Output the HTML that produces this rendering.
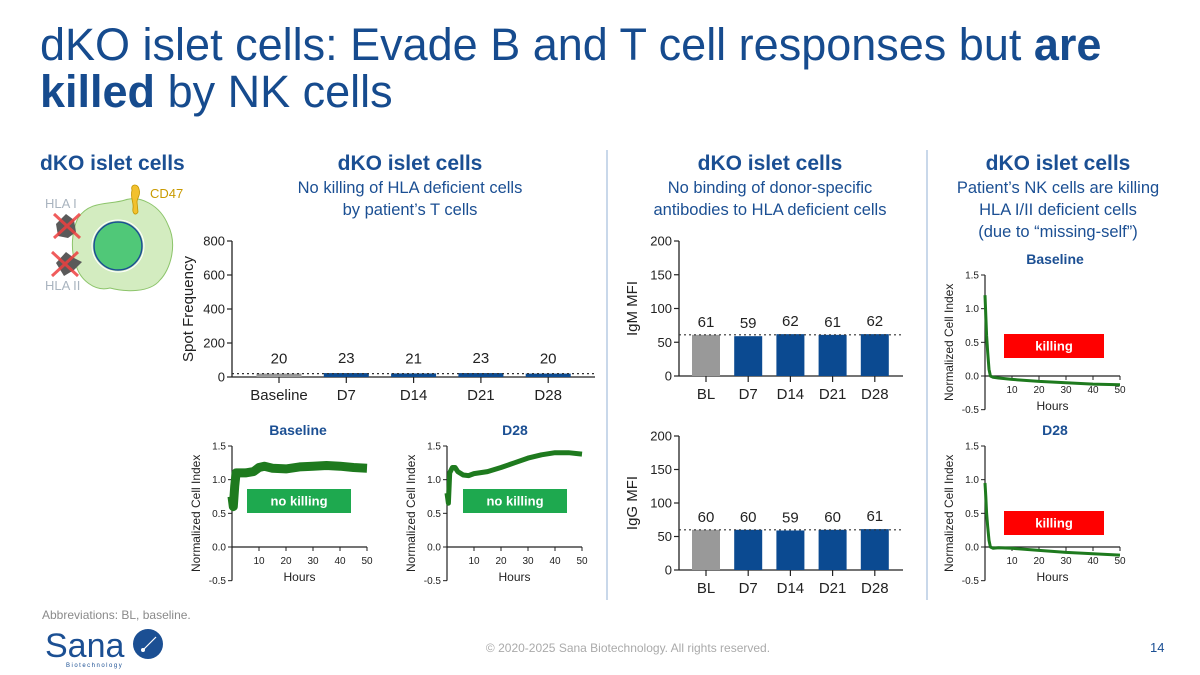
<!DOCTYPE html>
<html><head><meta charset="utf-8">
<style>
body{margin:0;background:#fff;}
svg{display:block;font-family:"Liberation Sans",Arial,sans-serif;}
</style></head>
<body>
<svg id="s" width="1200" height="675" viewBox="0 0 1200 675" xmlns="http://www.w3.org/2000/svg">
<g fill="#164b8e" font-size="45">
<text x="40" y="60">dKO islet cells: Evade B and T cell responses but <tspan font-weight="bold">are</tspan></text>
<text x="40" y="107"><tspan font-weight="bold">killed</tspan> by NK cells</text>
</g>
<text x="40" y="170" font-size="21" font-weight="bold" fill="#1b4f93">dKO islet cells</text>
<g>
<path d="M78,218 C90,200 110,205 125,200 C140,195 160,205 168,225 C178,245 170,270 160,280 C150,293 125,292 110,288 C95,292 80,280 76,265 C70,250 72,230 78,218Z" fill="#d3ecc0" stroke="#8cc46a" stroke-width="1"/>
<circle cx="118" cy="246" r="24" fill="#50c878" stroke="#1b4f93" stroke-width="1.5"/>
<circle cx="118" cy="246" r="26" fill="none" stroke="#fff" stroke-width="1"/>
<path d="M132,190 C130,184 138,183 139,189 C141,195 137,198 137,202 L138,212 C136,216 132,214 133,208 C134,203 130,198 132,190Z" fill="#f2c12e" stroke="#c29400" stroke-width="0.8"/>
<path d="M56,224 L66,214 L74,220 L76,232 L68,238 L58,236Z" fill="#5a5a5a"/>
<path d="M56,263 L66,252 L74,258 L82,262 L74,270 L64,276Z" fill="#5a5a5a"/>
<path d="M54,214 L80,238 M80,214 L54,238 M52,252 L78,276 M78,252 L52,276" stroke="#ee4040" stroke-width="3" opacity="0.85"/>
<text x="45" y="208" font-size="13" fill="#a9b4bf">HLA I</text>
<text x="45" y="290" font-size="13" fill="#a9b4bf">HLA II</text>
<text x="150" y="198" font-size="13" fill="#c99a00">CD47</text>
</g>
<g fill="#1b4f93" text-anchor="middle">
<text x="410" y="170" font-size="21" font-weight="bold">dKO islet cells</text>
<text x="410" y="193" font-size="16.5">No killing of HLA deficient cells</text>
<text x="410" y="215" font-size="16.5">by patient’s T cells</text>
<text x="770" y="170" font-size="21" font-weight="bold">dKO islet cells</text>
<text x="770" y="193" font-size="16.5">No binding of donor-specific</text>
<text x="770" y="215" font-size="16.5">antibodies to HLA deficient cells</text>
<text x="1058" y="170" font-size="21" font-weight="bold">dKO islet cells</text>
<text x="1058" y="193" font-size="16.5">Patient’s NK cells are killing</text>
<text x="1058" y="215" font-size="16.5">HLA I/II deficient cells</text>
<text x="1058" y="237" font-size="16.5">(due to “missing-self”)</text>
</g>
<line x1="607" y1="150" x2="607" y2="600" stroke="#c9d8ea" stroke-width="2"/>
<line x1="927" y1="150" x2="927" y2="600" stroke="#c9d8ea" stroke-width="2"/>
<g id="charts"></g>
<text x="42" y="619" font-size="12" fill="#8a8a8a">Abbreviations: BL, baseline.</text>
<g>
<text x="45" y="657" font-size="34" fill="#1b4f93">Sana</text>
<text x="66" y="667" font-size="6" fill="#1b4f93" letter-spacing="1.5">Biotechnology</text>
<circle cx="148" cy="644" r="15" fill="#1b4f93"/>
<line x1="143" y1="650" x2="156" y2="637" stroke="#fff" stroke-width="1.2"/>
<circle cx="143" cy="650" r="2" fill="#fff"/>
</g>
<text x="628" y="652" font-size="12" fill="#aaaaaa" text-anchor="middle">© 2020-2025 Sana Biotechnology. All rights reserved.</text>
<text x="1150" y="652" font-size="13" fill="#1b4f93">14</text>
</svg>
<script>
const NS="http://www.w3.org/2000/svg";
// Spot frequency chart data
const spotCats=["Baseline","D7","D14","D21","D28"];
const spotVals=[20,23,21,23,20];
const spotTicks=[0,200,400,600,800];
// IgM / IgG
const abCats=["BL","D7","D14","D21","D28"];
const igmVals=[61,59,62,61,62];
const iggVals=[60,60,59,60,61];
const abTicks=[0,50,100,150,200];
// Cell index curves (hours, value)
const ciTicksY=[-0.5,0,0.5,1.0,1.5];
const ciTicksX=[10,20,30,40,50];
const tBaseHours=[0,0.5,1,1.5,2,5,8,10,12,15,20,25,30,35,40,45,50];
const tBaseVals=[0.75,0.6,0.9,1.1,1.1,1.1,1.12,1.18,1.2,1.17,1.16,1.19,1.2,1.21,1.2,1.18,1.17];
const tD28Hours=[0,0.5,1,2,3,4,6,8,10,15,20,25,30,35,40,45,50];
const tD28Vals=[0.8,0.65,1.1,1.18,1.18,1.12,1.07,1.06,1.09,1.12,1.18,1.25,1.32,1.37,1.4,1.4,1.38];
const nkBaseHours=[0,0.3,0.6,1,1.5,2,3,5,10,20,30,40,50];
const nkBaseVals=[1.2,0.9,0.6,0.35,0.1,0.0,-0.02,-0.03,-0.05,-0.08,-0.1,-0.12,-0.13];
const nkD28Hours=[0,0.3,0.6,1,1.5,2,3,5,10,20,30,40,50];
const nkD28Vals=[0.95,0.75,0.5,0.3,0.1,0.0,-0.02,-0.01,-0.02,-0.05,-0.08,-0.1,-0.12];

const root=document.getElementById('charts');
function el(tag,attrs,parent,txt){const e=document.createElementNS(NS,tag);for(const k in attrs)e.setAttribute(k,attrs[k]);if(txt!==undefined)e.textContent=txt;(parent||root).appendChild(e);return e;}
function lin(d0,d1,r0,r1){return v=>r0+(v-d0)*(r1-r0)/(d1-d0);}

function barChart(name,opt){
  const g=el('g',{});
  
  
  const y=lin(opt.ymin,opt.ymax,opt.y0,opt.y1);
  const x=i=>opt.xStart+i*opt.step;
  el('line',{x1:opt.ax,y1:opt.y1,x2:opt.ax,y2:opt.y0,stroke:'#222','stroke-width':1.3},g);
  el('line',{x1:opt.ax,y1:opt.y0,x2:opt.xEnd,y2:opt.y0,stroke:'#222','stroke-width':1.3},g);
  opt.ticks.forEach(t=>{
    el('line',{x1:opt.ax-5,y1:y(t),x2:opt.ax,y2:y(t),stroke:'#222','stroke-width':1.2},g);
    const tl=el('text',{x:opt.ax-7,y:y(t)+4.5,'font-size':13,'text-anchor':'end',fill:'#222'},g,String(t));
    
    
  });
  opt.vals.forEach((v,i)=>{
    const r=el('rect',{x:x(i)-opt.bw/2,y:y(v),width:opt.bw,height:opt.y0-y(v),fill:i===0?'#999999':'#0b4a91'},g);
    
    
    el('line',{x1:x(i),y1:opt.y0,x2:x(i),y2:opt.y0+6,stroke:'#222','stroke-width':1.2},g);
    const c=el('text',{x:x(i),y:opt.y0+23,'font-size':15,'text-anchor':'middle',fill:'#222'},g,opt.cats[i]);
    
    
    const vl=el('text',{x:x(i),y:y(v)-(opt.labOff||6),'font-size':15,'text-anchor':'middle',fill:'#222'},g,String(v));
    
    
  });
  const ref=el('line',{x1:opt.ax,y1:y(opt.vals[0]),x2:opt.xEnd,y2:y(opt.vals[0]),stroke:'#333','stroke-width':1.2,'stroke-dasharray':'2,3'},g);
  
  
  const tt=el('text',{x:0,y:0,'font-size':15,'text-anchor':'middle',fill:'#222',transform:`translate(${opt.titleX},${(opt.y0+opt.y1)/2}) rotate(-90)`},g,opt.title);
  
  
}

barChart('spot-frequency-chart',{cats:spotCats,vals:spotVals,ticks:spotTicks,ymin:0,ymax:800,y0:377,y1:241,ax:232,xEnd:595,xStart:279,step:67.3,bw:45,title:'Spot Frequency',titleX:193,labOff:10});
barChart('igm-mfi-chart',{cats:abCats,vals:igmVals,ticks:abTicks,ymin:0,ymax:200,y0:376,y1:241,ax:679,xEnd:903,xStart:706,step:42.2,bw:28,title:'IgM MFI',titleX:637,labOff:8});
barChart('igg-mfi-chart',{cats:abCats,vals:iggVals,ticks:abTicks,ymin:0,ymax:200,y0:570,y1:436,ax:679,xEnd:903,xStart:706,step:42.2,bw:28,title:'IgG MFI',titleX:637,labOff:8});

function ciChart(name,opt){
  const g=el('g',{});
  
  
  const y=lin(0,1.5,opt.yZero,opt.yTop);
  const x=lin(0,50,opt.ax,opt.ax+135);
  el('line',{x1:opt.ax,y1:opt.yTop,x2:opt.ax,y2:y(-0.5),stroke:'#222','stroke-width':1.2},g);
  el('line',{x1:opt.ax,y1:opt.yZero,x2:x(50),y2:opt.yZero,stroke:'#222','stroke-width':1.2},g);
  ciTicksY.forEach(t=>{
    el('line',{x1:opt.ax-4,y1:y(t),x2:opt.ax,y2:y(t),stroke:'#222','stroke-width':1},g);
    el('text',{x:opt.ax-6,y:y(t)+3.5,'font-size':10,'text-anchor':'end',fill:'#222'},g,t.toFixed(1));
  });
  ciTicksX.forEach(t=>{
    el('line',{x1:x(t),y1:opt.yZero,x2:x(t),y2:opt.yZero+4,stroke:'#222','stroke-width':1},g);
    el('text',{x:x(t),y:opt.yZero+17,'font-size':10,'text-anchor':'middle',fill:'#222'},g,String(t));
  });
  el('text',{x:x(25),y:opt.yZero+34,'font-size':12,'text-anchor':'middle',fill:'#222'},g,'Hours');
  const yt=el('text',{x:0,y:0,'font-size':12,'text-anchor':'middle',fill:'#222',transform:`translate(${opt.ax-32},${y(0.5)}) rotate(-90)`},g,'Normalized Cell Index');
  
  
  const ct=el('text',{x:opt.titleX,y:opt.yTop-11,'font-size':14,'font-weight':'bold','text-anchor':'middle',fill:'#1b4f93'},g,opt.title);
  
  
  const d=opt.hours.map((h,i)=>(i?'L':'M')+x(h).toFixed(1)+','+y(opt.vals[i]).toFixed(1)).join(' ');
  const p=el('path',{d:d,fill:'none',stroke:'#1e7a1e','stroke-width':opt.sw,'stroke-linejoin':'round'},g);
  
  
  const b=el('rect',{x:opt.box[0],y:opt.box[1],width:opt.box[2],height:opt.box[3],fill:opt.boxColor},g);
  
  
  el('text',{x:opt.box[0]+opt.box[2]/2,y:opt.box[1]+opt.box[3]/2+4.5,'font-size':13,'font-weight':'bold','text-anchor':'middle',fill:'#fff'},g,opt.boxText);
}
ciChart('tcell-baseline-chart',{ax:232,yTop:446,yZero:547,title:'Baseline',titleX:298,hours:tBaseHours,vals:tBaseVals,sw:9,box:[247,489,104,24],boxColor:'#1ea94f',boxText:'no killing'});
ciChart('tcell-d28-chart',{ax:447,yTop:446,yZero:547,title:'D28',titleX:515,hours:tD28Hours,vals:tD28Vals,sw:5,box:[463,489,104,24],boxColor:'#1ea94f',boxText:'no killing'});
ciChart('nk-baseline-chart',{ax:985,yTop:275,yZero:376,title:'Baseline',titleX:1055,hours:nkBaseHours,vals:nkBaseVals,sw:3,box:[1004,334,100,24],boxColor:'#ff0000',boxText:'killing'});
ciChart('nk-d28-chart',{ax:985,yTop:446,yZero:547,title:'D28',titleX:1055,hours:nkD28Hours,vals:nkD28Vals,sw:3,box:[1004,511,100,24],boxColor:'#ff0000',boxText:'killing'});
</script>
</body></html>
